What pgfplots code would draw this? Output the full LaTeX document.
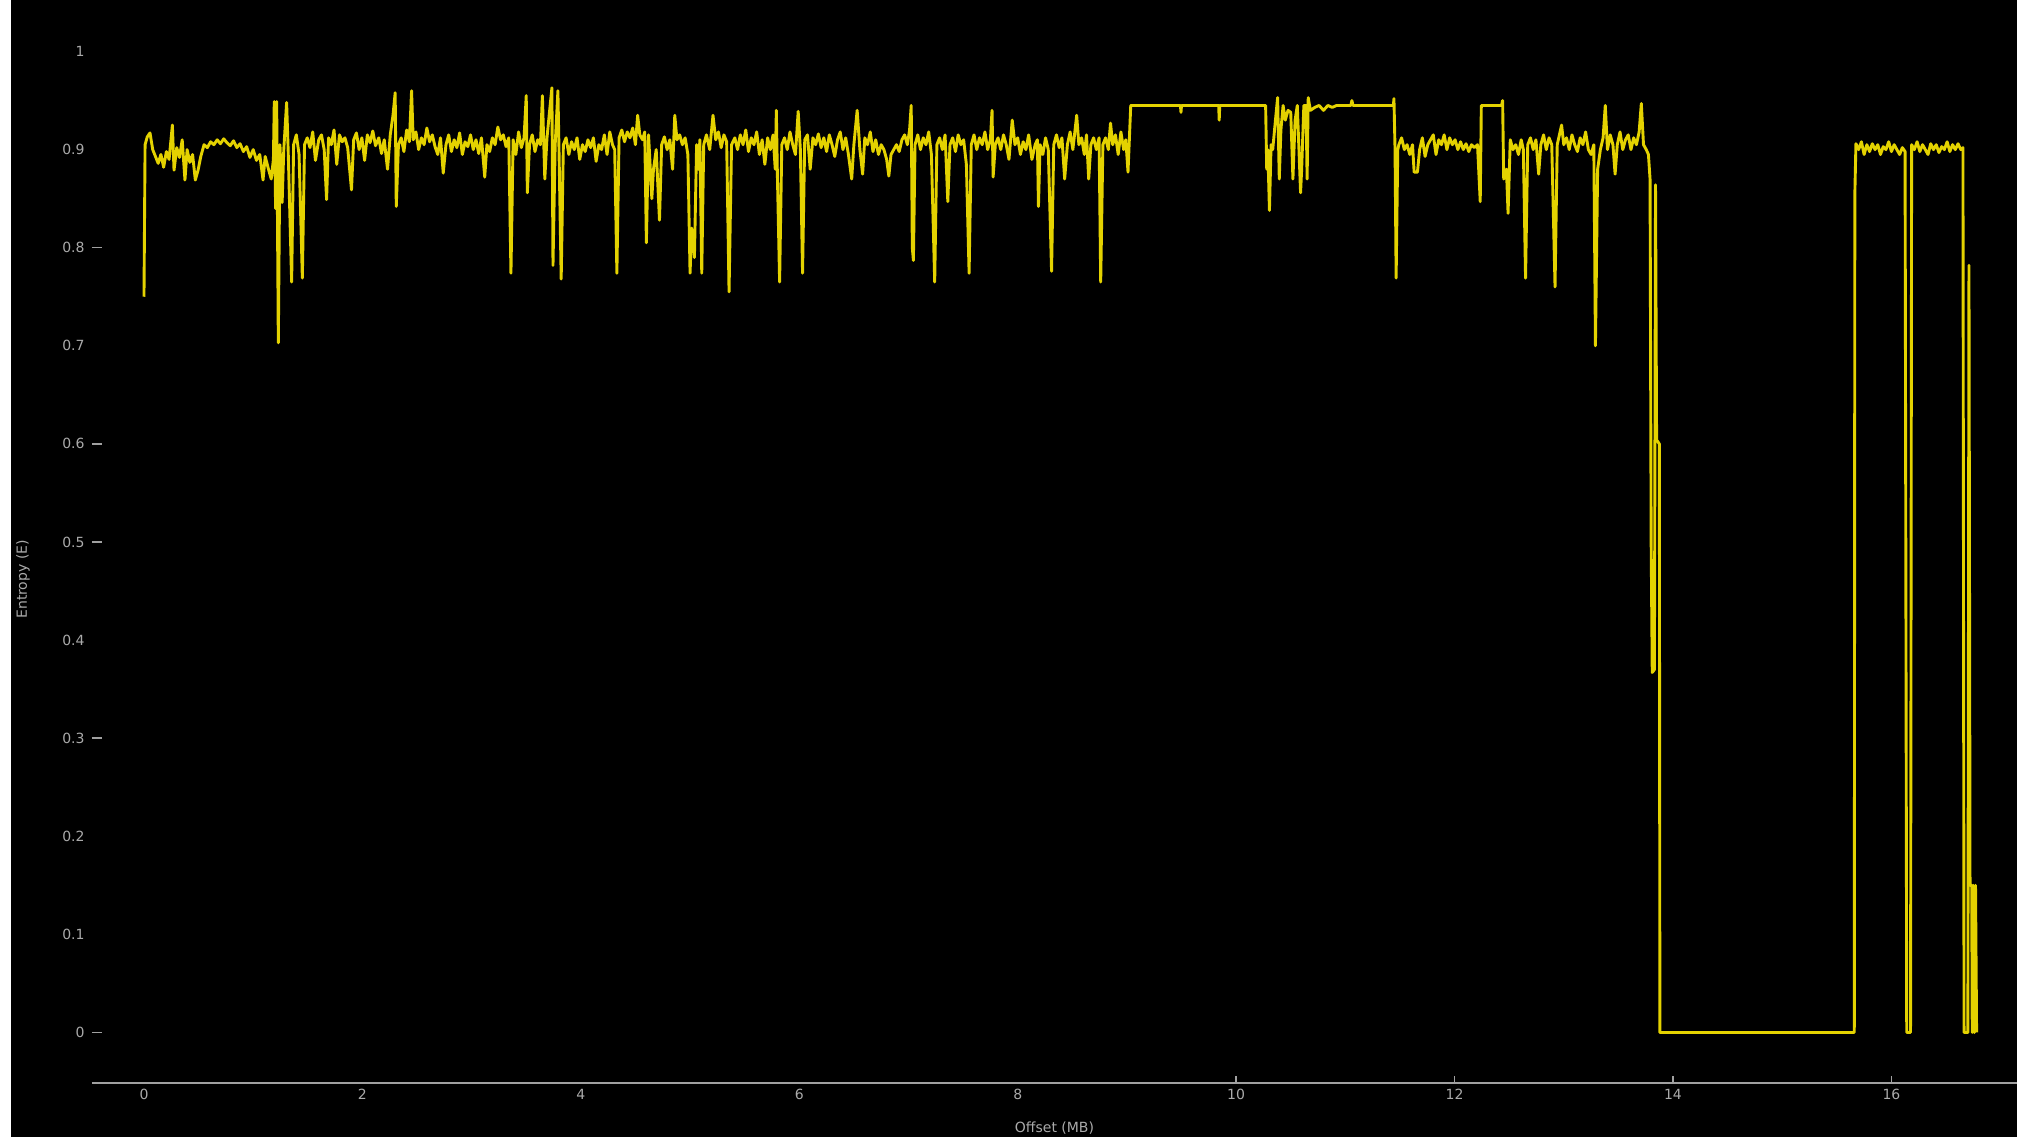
\documentclass[border=0pt]{standalone}
\usepackage{fontspec}
\setmainfont{DejaVu Sans}
\usepackage{pgfplots}
\pgfplotsset{compat=1.18}
\definecolor{lineyellow}{RGB}{228,210,0}
\definecolor{axisgray}{RGB}{160,160,160}
\definecolor{labelgray}{RGB}{170,170,170}
\begin{document}
\begin{tikzpicture}
\useasboundingbox (-46pt,-27pt) rectangle (962.5pt,541.5pt);
\fill[white] (-46pt,-27pt) rectangle (-40.5pt,541.5pt);
\fill[black] (-40.5pt,-27pt) rectangle (962.5pt,541.5pt);
\begin{axis}[
  at={(0pt,0pt)}, anchor=south west, scale only axis,
  width=962.5pt, height=541.5pt,
  xmin=-0.476, xmax=17.15, ymin=-0.0515, ymax=1.0525,
  axis x line*=bottom, axis y line*=left,
  x axis line style={draw=axisgray, line width=1pt, -},
  y axis line style={draw=none},
  xtick={0,2,4,6,8,10,12,14,16},
  ytick={0,0.1,0.2,0.3,0.4,0.5,0.6,0.7,0.8,0.9,1},
  major tick length=0pt,
  extra y ticks={0,0.3,0.5,0.6,0.8}, extra y tick labels={},
  extra y tick style={major tick length=5pt, tick align=inside, tick style={draw=axisgray, line width=0.8pt}},
  extra x ticks={10,12,14,16}, extra x tick labels={},
  extra x tick style={major tick length=3.5pt, tick align=inside, tick style={draw=axisgray, line width=0.7pt}},
  /pgf/number format/assume math mode=true,
  tick label style={font=\fontsize{7}{8.4}\selectfont, text=labelgray},
  yticklabel style={inner sep=1pt, xshift=-2.5pt},
  xticklabel style={inner sep=1pt, yshift=-2pt},
  xlabel={Offset (MB)}, ylabel={Entropy (E)},
  every axis x label/.style={at={(axis description cs:0.5,-0.0416)}, anchor=center, font=\fontsize{7}{8.4}\selectfont, text=labelgray},
  every axis y label/.style={at={(axis description cs:-0.0358,0.465)}, anchor=center, rotate=90, font=\fontsize{7}{8.4}\selectfont, text=labelgray},
  clip=true,
]
\addplot[lineyellow, line width=1.45pt, line join=round, mark=none] table {
x y
0.000 0.750
0.010 0.905
0.030 0.913
0.055 0.917
0.080 0.900
0.105 0.893
0.130 0.886
0.155 0.895
0.180 0.882
0.205 0.898
0.230 0.890
0.260 0.925
0.275 0.879
0.300 0.902
0.325 0.892
0.350 0.910
0.375 0.869
0.395 0.900
0.420 0.887
0.445 0.895
0.470 0.869
0.495 0.879
0.520 0.893
0.550 0.905
0.580 0.902
0.610 0.908
0.640 0.905
0.670 0.910
0.700 0.906
0.730 0.911
0.760 0.907
0.790 0.904
0.820 0.909
0.850 0.902
0.880 0.906
0.910 0.898
0.940 0.903
0.970 0.892
1.000 0.900
1.030 0.889
1.060 0.895
1.090 0.869
1.110 0.893
1.140 0.880
1.165 0.870
1.185 0.890
1.193 0.949
1.205 0.840
1.215 0.949
1.230 0.703
1.245 0.905
1.265 0.846
1.280 0.900
1.306 0.948
1.320 0.900
1.352 0.765
1.370 0.905
1.395 0.915
1.420 0.895
1.450 0.769
1.470 0.905
1.495 0.912
1.520 0.902
1.545 0.918
1.570 0.889
1.600 0.910
1.625 0.915
1.650 0.900
1.672 0.849
1.690 0.912
1.715 0.905
1.740 0.920
1.765 0.885
1.790 0.915
1.815 0.908
1.840 0.912
1.865 0.902
1.900 0.859
1.920 0.910
1.945 0.917
1.970 0.900
1.995 0.912
2.020 0.889
2.045 0.915
2.070 0.907
2.095 0.919
2.120 0.904
2.150 0.912
2.175 0.896
2.200 0.910
2.230 0.880
2.255 0.915
2.280 0.935
2.300 0.958
2.310 0.842
2.330 0.905
2.355 0.912
2.380 0.898
2.405 0.920
2.430 0.908
2.450 0.960
2.465 0.910
2.490 0.918
2.515 0.900
2.540 0.912
2.565 0.905
2.590 0.922
2.615 0.908
2.640 0.915
2.665 0.903
2.690 0.895
2.715 0.912
2.740 0.876
2.765 0.905
2.790 0.915
2.815 0.898
2.840 0.910
2.865 0.902
2.890 0.917
2.915 0.895
2.940 0.908
2.965 0.903
2.990 0.915
3.015 0.900
3.040 0.910
3.065 0.896
3.090 0.912
3.120 0.872
3.140 0.905
3.165 0.898
3.190 0.912
3.215 0.905
3.240 0.923
3.265 0.910
3.290 0.915
3.315 0.903
3.340 0.912
3.360 0.774
3.380 0.910
3.405 0.895
3.430 0.918
3.455 0.902
3.480 0.912
3.500 0.955
3.510 0.856
3.530 0.905
3.555 0.915
3.580 0.898
3.605 0.910
3.630 0.905
3.648 0.955
3.670 0.870
3.690 0.912
3.710 0.935
3.735 0.963
3.745 0.782
3.765 0.905
3.790 0.960
3.800 0.900
3.820 0.768
3.840 0.905
3.865 0.912
3.890 0.895
3.915 0.908
3.940 0.900
3.965 0.912
3.990 0.890
4.015 0.905
4.040 0.898
4.065 0.910
4.090 0.902
4.115 0.912
4.140 0.888
4.165 0.905
4.190 0.900
4.215 0.915
4.240 0.895
4.265 0.918
4.290 0.905
4.310 0.900
4.330 0.774
4.350 0.912
4.375 0.920
4.400 0.908
4.425 0.918
4.450 0.912
4.475 0.922
4.500 0.905
4.520 0.935
4.540 0.915
4.565 0.910
4.585 0.918
4.600 0.805
4.620 0.915
4.650 0.850
4.665 0.880
4.690 0.900
4.720 0.828
4.740 0.905
4.765 0.913
4.790 0.900
4.815 0.910
4.840 0.880
4.860 0.935
4.880 0.910
4.905 0.915
4.930 0.905
4.955 0.912
4.980 0.895
5.000 0.774
5.015 0.820
5.040 0.790
5.060 0.905
5.076 0.880
5.090 0.910
5.107 0.774
5.125 0.905
5.150 0.915
5.180 0.900
5.210 0.935
5.235 0.910
5.260 0.918
5.285 0.902
5.310 0.915
5.335 0.908
5.357 0.755
5.380 0.905
5.410 0.912
5.435 0.900
5.460 0.915
5.485 0.905
5.510 0.920
5.535 0.898
5.560 0.912
5.585 0.905
5.610 0.918
5.635 0.895
5.660 0.910
5.685 0.885
5.710 0.912
5.735 0.900
5.760 0.915
5.780 0.880
5.790 0.940
5.800 0.872
5.820 0.765
5.840 0.905
5.865 0.912
5.890 0.900
5.915 0.918
5.940 0.905
5.965 0.895
5.990 0.939
6.010 0.900
6.030 0.774
6.050 0.910
6.075 0.915
6.100 0.880
6.125 0.912
6.150 0.905
6.175 0.916
6.200 0.902
6.225 0.912
6.250 0.898
6.275 0.915
6.300 0.905
6.325 0.893
6.350 0.910
6.375 0.918
6.400 0.900
6.425 0.912
6.450 0.895
6.480 0.870
6.500 0.905
6.530 0.940
6.555 0.900
6.580 0.875
6.600 0.912
6.625 0.905
6.650 0.918
6.675 0.898
6.700 0.910
6.725 0.895
6.750 0.905
6.775 0.900
6.800 0.890
6.820 0.873
6.840 0.895
6.865 0.900
6.890 0.905
6.915 0.898
6.940 0.910
6.965 0.915
6.990 0.905
7.010 0.920
7.025 0.945
7.035 0.800
7.045 0.787
7.060 0.905
7.085 0.915
7.110 0.900
7.135 0.912
7.160 0.905
7.185 0.918
7.210 0.895
7.240 0.765
7.260 0.905
7.285 0.912
7.310 0.900
7.335 0.915
7.360 0.847
7.380 0.905
7.405 0.912
7.430 0.898
7.455 0.915
7.480 0.905
7.505 0.910
7.530 0.885
7.555 0.774
7.575 0.905
7.600 0.915
7.625 0.900
7.650 0.912
7.675 0.905
7.700 0.918
7.725 0.900
7.750 0.910
7.765 0.940
7.775 0.872
7.795 0.905
7.820 0.912
7.845 0.900
7.870 0.915
7.895 0.905
7.920 0.890
7.950 0.930
7.975 0.905
8.000 0.912
8.025 0.895
8.050 0.908
8.075 0.900
8.100 0.915
8.130 0.890
8.160 0.905
8.180 0.910
8.190 0.842
8.205 0.905
8.230 0.895
8.255 0.912
8.280 0.900
8.310 0.776
8.330 0.905
8.355 0.915
8.380 0.902
8.405 0.912
8.430 0.870
8.455 0.905
8.480 0.918
8.505 0.900
8.540 0.935
8.560 0.905
8.585 0.912
8.610 0.895
8.630 0.915
8.650 0.870
8.670 0.905
8.695 0.912
8.720 0.900
8.745 0.912
8.760 0.765
8.780 0.905
8.805 0.912
8.830 0.900
8.850 0.927
8.870 0.905
8.895 0.915
8.920 0.895
8.945 0.918
8.970 0.900
8.990 0.910
9.010 0.877
9.035 0.945
9.490 0.945
9.495 0.938
9.500 0.945
9.840 0.945
9.845 0.930
9.850 0.945
10.270 0.945
10.280 0.880
10.290 0.900
10.305 0.838
10.320 0.905
10.335 0.900
10.360 0.930
10.380 0.953
10.395 0.870
10.410 0.920
10.430 0.945
10.450 0.930
10.475 0.940
10.500 0.938
10.520 0.870
10.540 0.930
10.560 0.945
10.590 0.856
10.600 0.880
10.620 0.945
10.640 0.945
10.650 0.870
10.660 0.953
10.680 0.940
10.720 0.943
10.760 0.945
10.800 0.940
10.840 0.945
10.880 0.943
10.920 0.945
11.050 0.945
11.060 0.950
11.070 0.945
11.440 0.945
11.445 0.952
11.455 0.900
11.465 0.769
11.480 0.900
11.490 0.905
11.515 0.912
11.540 0.900
11.565 0.905
11.590 0.895
11.615 0.905
11.630 0.877
11.660 0.877
11.680 0.900
11.705 0.912
11.730 0.893
11.755 0.905
11.780 0.910
11.805 0.915
11.830 0.895
11.855 0.910
11.880 0.905
11.905 0.915
11.930 0.900
11.955 0.912
11.980 0.905
12.005 0.910
12.030 0.900
12.055 0.908
12.080 0.900
12.105 0.906
12.130 0.898
12.155 0.905
12.180 0.902
12.210 0.905
12.235 0.847
12.245 0.945
12.430 0.945
12.440 0.950
12.450 0.870
12.475 0.880
12.490 0.835
12.510 0.910
12.535 0.900
12.560 0.905
12.585 0.895
12.610 0.910
12.630 0.900
12.650 0.769
12.670 0.905
12.695 0.912
12.720 0.900
12.745 0.910
12.770 0.875
12.790 0.905
12.815 0.915
12.840 0.900
12.865 0.912
12.890 0.905
12.920 0.760
12.940 0.905
12.960 0.915
12.980 0.925
13.000 0.905
13.025 0.912
13.050 0.900
13.075 0.915
13.100 0.905
13.125 0.898
13.150 0.912
13.175 0.905
13.200 0.918
13.225 0.900
13.250 0.895
13.275 0.905
13.290 0.700
13.310 0.880
13.335 0.900
13.360 0.912
13.380 0.945
13.400 0.900
13.425 0.915
13.450 0.905
13.470 0.875
13.490 0.905
13.515 0.918
13.540 0.900
13.565 0.910
13.590 0.915
13.615 0.900
13.640 0.912
13.665 0.905
13.690 0.918
13.710 0.947
13.730 0.905
13.755 0.900
13.775 0.895
13.790 0.870
13.800 0.500
13.810 0.367
13.830 0.370
13.840 0.864
13.850 0.604
13.875 0.600
13.880 0.000
15.660 0.000
15.665 0.854
15.675 0.906
15.700 0.900
15.725 0.908
15.750 0.895
15.775 0.905
15.800 0.898
15.825 0.906
15.850 0.900
15.875 0.905
15.900 0.895
15.925 0.903
15.950 0.900
15.975 0.908
16.000 0.898
16.025 0.905
16.050 0.900
16.075 0.895
16.100 0.902
16.125 0.898
16.140 0.000
16.175 0.000
16.185 0.905
16.210 0.900
16.235 0.908
16.260 0.898
16.285 0.905
16.310 0.900
16.335 0.895
16.360 0.906
16.385 0.900
16.410 0.905
16.435 0.897
16.460 0.903
16.485 0.900
16.510 0.908
16.535 0.898
16.560 0.905
16.585 0.900
16.610 0.906
16.635 0.900
16.655 0.902
16.665 0.000
16.700 0.000
16.710 0.782
16.720 0.150
16.735 0.150
16.740 0.000
16.750 0.150
16.760 0.000
16.770 0.150
16.780 0.000
};
\end{axis}
\end{tikzpicture}
\end{document}
